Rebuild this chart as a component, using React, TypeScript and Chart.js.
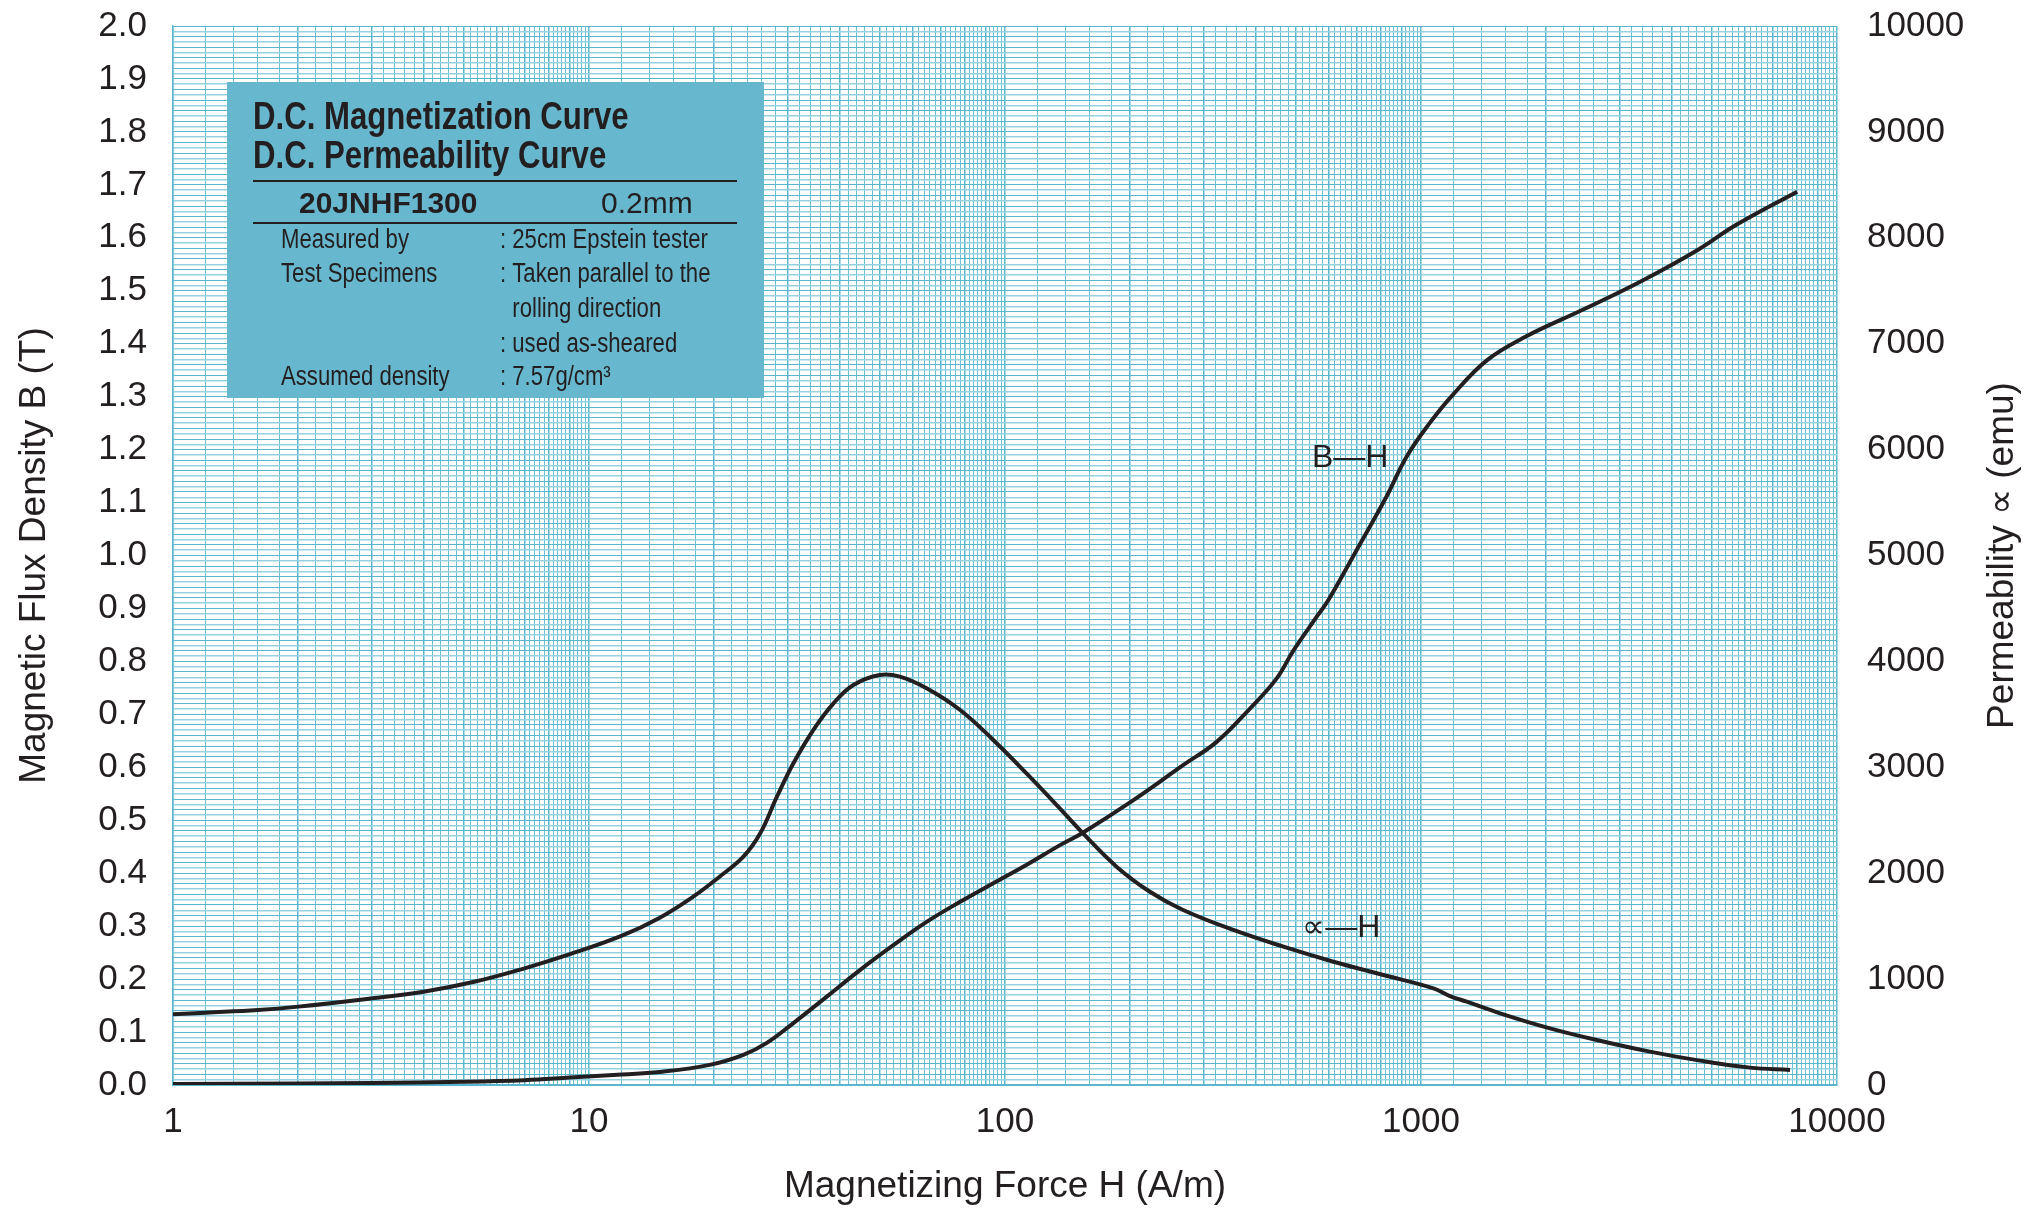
import React, { useEffect, useRef } from 'react';
import { Chart, registerables } from 'chart.js';

Chart.register(...registerables);

// ---- Data ----
// B-H curve: magnetizing force H (A/m) and flux density B (T)
const bhH = [1, 2, 3, 5, 7, 9, 12, 15, 19.5, 23.5, 26.7, 31, 37.3, 44.8, 53.9, 64.8, 78, 93.7, 112.8, 135.6, 152.8, 203.6, 268, 322.7, 388, 450, 493, 561, 599, 700, 822, 924, 1049, 1191, 1442, 1782, 2447, 3365, 4625, 5715, 8020];
const bhB = [0.002, 0.003, 0.004, 0.006, 0.009, 0.014, 0.02, 0.025, 0.038, 0.057, 0.079, 0.117, 0.167, 0.217, 0.264, 0.308, 0.346, 0.381, 0.416, 0.453, 0.475, 0.538, 0.604, 0.648, 0.711, 0.768, 0.82, 0.884, 0.916, 1.01, 1.108, 1.187, 1.25, 1.303, 1.369, 1.413, 1.464, 1.517, 1.577, 1.624, 1.687];

// Permeability curve: H (A/m) and permeability (emu)
const muH = [1, 1.2, 1.6, 2, 3, 4, 5.3, 7, 9, 12, 14.8, 17.8, 20.6, 23.5, 25.8, 28.3, 31, 34.6, 38.7, 43.2, 50, 55.9, 64.8, 78, 93.7, 112.8, 135.6, 152.8, 185.4, 223, 268, 354, 467, 616, 812, 1071, 1174, 1288, 1549, 2042, 2693, 3550, 4684, 6180, 7711];
const muVal = [668, 683, 708, 740, 818, 881, 975, 1102, 1235, 1410, 1580, 1778, 1967, 2156, 2377, 2723, 3038, 3352, 3604, 3777, 3872, 3856, 3746, 3541, 3258, 2940, 2610, 2390, 2062, 1825, 1653, 1464, 1306, 1164, 1039, 913, 840, 787, 677, 535, 418, 315, 230, 164, 142];

// Axis ranges / tick labels
const xMin = 1;
const xMax = 10000;
const xLabelValues = [1, 10, 100, 1000, 10000];
const bMax = 2.0;
const bLabelStep = 0.1;
const bGridStep = 0.01;
const muMax = 10000;
const muLabelStep = 1000;

// Texts
const xTitle = 'Magnetizing Force H (A/m)';
const yTitle = 'Magnetic Flux Density B (T)';
const y1Title = 'Permeability ∝ (emu)';
const boxTitle1 = 'D.C. Magnetization Curve';
const boxTitle2 = 'D.C. Permeability Curve';
const boxGrade = '20JNHF1300';
const boxThickness = '0.2mm';
const boxRowsLeft = ['Measured by', 'Test Specimens', '', '', 'Assumed density'];
const boxRowsRight = [': 25cm Epstein tester', ': Taken parallel to the', '  rolling direction', ': used as-sheared', ': 7.57g/cm³'];
const curveLabels = [
  { text: 'B—H', h: 547, b: 1.168 },
  { text: '∝—H', h: 518, b: 0.28 },
];

// Styles
const INK = '#231f20';
const GRID_DARK = '#58b7cd';
const GRID_LIGHT = '#94d2e0';
const GRID_X = '#6cc0d4';
const BOX_COLOR = '#67b8ce';
const SANS = '"Liberation Sans", Arial, Helvetica, sans-serif';
const NARROW_SCALE = 0.82;

// grid value generators (built from ranges)
const xGridValues: number[] = (() => {
  const out: number[] = [];
  for (let k = Math.log10(xMin); k < Math.log10(xMax); k++) {
    const base = Math.pow(10, k);
    for (let m = 10; m < 100; m += 2) out.push(Math.round(m * base) / 10);
  }
  out.push(xMax);
  return out;
})();
const yGridValues: number[] = (() => {
  const out: number[] = [];
  const n = Math.round(bMax / bGridStep);
  for (let i = 0; i <= n; i++) out.push(Math.round(i * bGridStep * 1000) / 1000);
  return out;
})();
const y1TickValues: number[] = (() => {
  const out: number[] = [];
  for (let v = 0; v <= muMax; v += muLabelStep) out.push(v);
  return out;
})();

const isIntMantissa = (v: number) => {
  const m = v / Math.pow(10, Math.floor(Math.log10(v) + 1e-9));
  return Math.abs(m - Math.round(m)) < 1e-6;
};

function narrowText(ctx: CanvasRenderingContext2D, text: string, x: number, y: number, font: string) {
  ctx.save();
  ctx.translate(x, y);
  ctx.scale(NARROW_SCALE, 1);
  ctx.font = font;
  ctx.fillText(text, 0, 0);
  ctx.restore();
}

const overlayPlugin = {
  id: 'overlay',
  afterDraw(chart: any) {
    const ctx: CanvasRenderingContext2D = chart.ctx;
    const a = chart.chartArea;
    const xs = chart.scales.x;
    const ys = chart.scales.y;
    ctx.save();

    // info box
    const bx = a.left + 54;
    const by = a.top + 56;
    const bw = 537;
    const bh = 316;
    ctx.fillStyle = BOX_COLOR;
    ctx.fillRect(bx, by, bw, bh);
    ctx.fillStyle = INK;
    ctx.textAlign = 'left';
    ctx.textBaseline = 'alphabetic';
    narrowText(ctx, boxTitle1, bx + 26, by + 47, `bold 38px ${SANS}`);
    narrowText(ctx, boxTitle2, bx + 26, by + 86, `bold 38px ${SANS}`);
    ctx.strokeStyle = INK;
    ctx.lineWidth = 2;
    ctx.beginPath();
    ctx.moveTo(bx + 26, by + 99);
    ctx.lineTo(bx + 510, by + 99);
    ctx.moveTo(bx + 26, by + 141);
    ctx.lineTo(bx + 510, by + 141);
    ctx.stroke();
    ctx.font = `bold 30px ${SANS}`;
    ctx.fillText(boxGrade, bx + 72, by + 131);
    ctx.font = `30px ${SANS}`;
    ctx.fillText(boxThickness, bx + 374, by + 131);
    const rowY = [166, 200, 235, 270, 303];
    boxRowsLeft.forEach((t, i) => {
      if (t) narrowText(ctx, t, bx + 54, by + rowY[i], `27px ${SANS}`);
    });
    boxRowsRight.forEach((t, i) => {
      narrowText(ctx, t, bx + 273, by + rowY[i], `27px ${SANS}`);
    });

    // curve labels
    ctx.font = `32px ${SANS}`;
    curveLabels.forEach((l) => {
      ctx.fillText(l.text, xs.getPixelForValue(l.h), ys.getPixelForValue(l.b));
    });

    // right axis title (reads bottom to top)
    ctx.translate(chart.width - 41, (a.top + a.bottom) / 2);
    ctx.rotate(-Math.PI / 2);
    ctx.textAlign = 'center';
    ctx.textBaseline = 'middle';
    ctx.font = `37px ${SANS}`;
    ctx.fillText(y1Title, 0, 0);
    ctx.restore();
  },
};

export default function App() {
  const ref = useRef<HTMLCanvasElement | null>(null);

  useEffect(() => {
    document.body.style.margin = '0';
    const canvas = ref.current;
    if (!canvas) return;
    const tickFont = { family: SANS, size: 35 };
    const titleFont = { family: SANS, size: 37 };

    const chart = new Chart(canvas, {
      type: 'line',
      data: {
        datasets: [
          {
            label: 'B-H',
            data: bhH.map((h, i) => ({ x: h, y: bhB[i] })),
            yAxisID: 'y',
            borderColor: INK,
            borderWidth: 4,
            pointRadius: 0,
            tension: 0.4,
            fill: false,
          },
          {
            label: 'μ-H',
            data: muH.map((h, i) => ({ x: h, y: muVal[i] })),
            yAxisID: 'y1',
            borderColor: INK,
            borderWidth: 4,
            pointRadius: 0,
            tension: 0.4,
            fill: false,
          },
        ],
      },
      options: {
        animation: false,
        responsive: false,
        maintainAspectRatio: false,
        devicePixelRatio: 1,
        layout: { padding: { top: 26, left: 0, right: 0, bottom: 0 } },
        plugins: { legend: { display: false }, tooltip: { enabled: false } },
        scales: {
          x: {
            type: 'logarithmic',
            min: xMin,
            max: xMax,
            afterBuildTicks: (s: any) => {
              s.ticks = xGridValues.map((v) => ({ value: v }));
            },
            afterFit: (s: any) => {
              s.height = 124;
            },
            ticks: {
              autoSkip: false,
              maxRotation: 0,
              minRotation: 0,
              padding: 16,
              color: INK,
              font: tickFont,
              callback: (v: any) => {
                const n = Number(v);
                return xLabelValues.some((l) => Math.abs(l - n) < 1e-6) ? String(n) : '';
              },
            },
            grid: {
              drawTicks: false,
              color: (c: any) => (c.tick && isIntMantissa(c.tick.value) ? GRID_DARK : GRID_X),
              lineWidth: (c: any) => (c.tick && isIntMantissa(c.tick.value) ? 1.5 : 1),
            },
            border: { color: GRID_DARK, width: 1.5 },
            title: { display: true, text: xTitle, color: INK, font: titleFont, padding: { top: 0, bottom: 0 } },
          },
          y: {
            position: 'left',
            min: 0,
            max: bMax,
            afterBuildTicks: (s: any) => {
              s.ticks = yGridValues.map((v) => ({ value: v }));
            },
            afterFit: (s: any) => {
              s.width = 173;
            },
            ticks: {
              autoSkip: false,
              padding: 0,
              color: INK,
              font: tickFont,
              callback: (v: any) => {
                const n = Number(v);
                const k = n / bLabelStep;
                return Math.abs(k - Math.round(k)) < 1e-6 ? n.toFixed(1) : '';
              },
            },
            grid: {
              drawTicks: true,
              tickLength: 26,
              tickColor: 'rgba(0,0,0,0)',
              color: (c: any) => (c.index % 2 === 0 ? GRID_DARK : GRID_LIGHT),
              lineWidth: (c: any) => (c.index % 2 === 0 ? 1 : 1.5),
            },
            border: { color: GRID_DARK, width: 1.5 },
            title: { display: true, text: yTitle, color: INK, font: titleFont, padding: { top: 13, bottom: 0 } },
          },
          y1: {
            position: 'right',
            min: 0,
            max: muMax,
            afterBuildTicks: (s: any) => {
              s.ticks = y1TickValues.map((v) => ({ value: v }));
            },
            afterFit: (s: any) => {
              s.width = 207;
            },
            ticks: {
              autoSkip: false,
              padding: 0,
              color: INK,
              font: tickFont,
              callback: (v: any) => String(v),
            },
            grid: { drawOnChartArea: false, drawTicks: true, tickLength: 30, tickColor: 'rgba(0,0,0,0)' },
            border: { display: false },
          },
        },
      },
      plugins: [overlayPlugin],
    } as any);

    return () => chart.destroy();
  }, []);

  return <canvas ref={ref} width={2044} height={1209} style={{ display: 'block' }} />;
}
